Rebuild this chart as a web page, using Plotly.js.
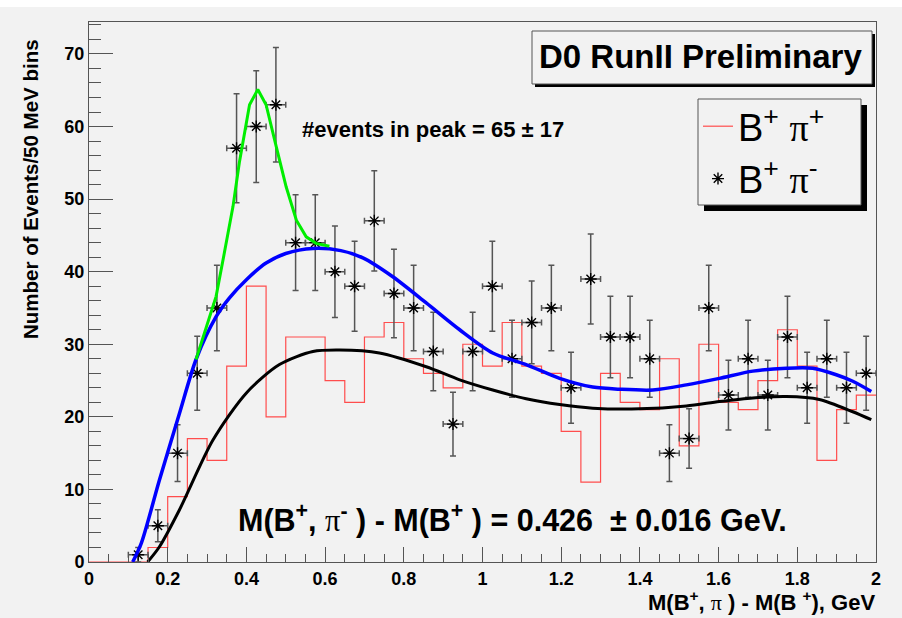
<!DOCTYPE html>
<html>
<head>
<meta charset="utf-8">
<script src="https://cdn.plot.ly/plotly-3.0.1.min.js"></script>
<style>
  html, body { margin: 0; padding: 0; background: #f2f2f2; }
  #chart { width: 902px; height: 618px; }
</style>
</head>
<body>
<div id="chart"></div>
<script>
// ---------- data ----------
// B+ pi+ histogram (40 bins of 50 MeV from 0 to 2 GeV)
const histLowEdges = [0.00,0.05,0.10,0.15,0.20,0.25,0.30,0.35,0.40,0.45,
                      0.50,0.55,0.60,0.65,0.70,0.75,0.80,0.85,0.90,0.95,
                      1.00,1.05,1.10,1.15,1.20,1.25,1.30,1.35,1.40,1.45,
                      1.50,1.55,1.60,1.65,1.70,1.75,1.80,1.85,1.90,1.95];
const histUpperEnd = 2.0;
const bpipCounts = [0,0,0,2,9,17,14,27,38,20,
                    31,31,25,22,31,33,28,26,24,30,
                    27,33,27,26,18,11,26,22,21,28,
                    16,30,22,21,25,32,27,14,21,23];

// B+ pi- points (bin centres, counts, errors)
const bpimX = [0.125,0.175,0.225,0.275,0.325,0.375,0.425,0.475,0.525,0.575,
               0.625,0.675,0.725,0.775,0.825,0.875,0.925,0.975,1.025,1.075,
               1.125,1.175,1.225,1.275,1.325,1.375,1.425,1.475,1.525,1.575,
               1.625,1.675,1.725,1.775,1.825,1.875,1.925,1.975];
const bpimY = [1,5,15,26,35,57,60,63,44,44,
               40,38,47,37,35,29,19,29,38,28,
               33,35,24,39,31,31,28,15,17,35,
               23,28,23,31,24,28,24,26];
const bpimErr = [1.0,2.2,3.9,5.1,5.9,7.5,7.7,7.9,6.6,6.6,
                 6.3,6.2,6.9,6.1,5.9,5.4,4.4,5.4,6.2,5.3,
                 5.7,5.9,4.9,6.2,5.6,5.6,5.3,3.9,4.1,5.9,
                 4.8,5.3,4.8,5.6,4.9,5.3,4.9,5.1];
const halfBin = 0.025;

// fitted curves
const blackX = [0.149,0.179,0.23,0.315,0.40,0.484,0.569,0.637,0.738,0.857,0.942,1.026,1.111,1.196,1.28,1.399,1.518,1.602,1.687,1.772,1.856,1.941,1.988];
const blackY = [0,2.1,7.2,16.8,23.3,27.2,29.0,29.2,28.8,26.9,25.1,23.7,22.5,21.7,21.2,21.1,21.5,22.1,22.6,22.8,22.4,20.7,19.6];

const blueX = [0.111,0.133,0.179,0.23,0.272,0.323,0.357,0.40,0.45,0.50,0.569,0.64,0.696,0.772,0.857,0.942,1.026,1.111,1.196,1.28,1.35,1.433,1.518,1.602,1.687,1.772,1.839,1.899,1.941,1.988];
const blueY = [0,2.6,11.3,20.5,27.9,33.8,36.4,38.9,41.2,42.5,43.2,42.9,41.9,39.3,35.7,32.0,28.8,27.2,25.3,24.1,23.8,23.7,24.4,25.3,26.3,26.7,26.7,25.8,24.9,23.5];

const greenX = [0.272,0.323,0.344,0.366,0.382,0.408,0.429,0.450,0.476,0.501,0.527,0.552,0.577,0.611];
const greenY = [27.9,36.6,42.6,49.0,55.0,63.0,65.1,63.0,57.2,51.7,47.1,44.8,43.9,43.5];

// texts
const PI = '<span style="font-family:Liberation Serif, serif;font-weight:normal">π</span>';
const legendNames = ['B<sup>+</sup> ' + PI + '<sup>+</sup>', 'B<sup>+</sup> ' + PI + '<sup>-</sup>'];
const titleText = 'D0 RunII Preliminary';
const peakText = '#events in peak = 65 ± 17';
const resultText = 'M(B<sup>+</sup>, ' + PI + '<sup>-</sup> ) - M(B<sup>+</sup> ) = 0.426  ± 0.016 GeV.';
const xTitle = 'M(B<sup>+</sup>, ' + PI + ' ) - M(B <sup>+</sup>), GeV';
const yTitle = 'Number of Events/50 MeV bins';

// ---------- layout helpers (pixel -> paper) ----------
const W = 902, H = 618;
const M = {l: 89, r: 26, t: 22, b: 56};
const PW = W - M.l - M.r, PH = H - M.t - M.b;
const px = x => (x - M.l) / PW;
const py = y => (H - M.b - y) / PH;

// histogram as steps
const histX = histLowEdges.concat([histUpperEnd]);
const histY = bpipCounts.concat([bpipCounts[bpipCounts.length - 1]]);

const FONT = 'Liberation Sans, Arial, Helvetica, sans-serif';
const AX = '#555555';

const traces = [
  {
    type: 'scatter', mode: 'lines', x: histX, y: histY,
    line: {shape: 'hv', color: '#ff4d4d', width: 1.2},
    name: legendNames[0], showlegend: true
  },
  {
    type: 'scatter', mode: 'markers', x: bpimX, y: bpimY,
    marker: {symbol: 'asterisk-open', size: 10, color: '#000', line: {color: '#000', width: 1.4}},
    error_y: {type: 'data', array: bpimErr, visible: true, color: '#555', thickness: 1.5, width: 3},
    error_x: {type: 'constant', value: halfBin, visible: true, color: '#555', thickness: 1.5, width: 3},
    name: legendNames[1], showlegend: true
  },
  {
    type: 'scatter', mode: 'lines', x: blackX, y: blackY,
    line: {shape: 'spline', smoothing: 0.8, color: '#000', width: 3},
    showlegend: false, hoverinfo: 'skip'
  },
  {
    type: 'scatter', mode: 'lines', x: blueX, y: blueY,
    line: {shape: 'spline', smoothing: 0.8, color: '#0000ff', width: 3.5},
    showlegend: false, hoverinfo: 'skip'
  },
  {
    type: 'scatter', mode: 'lines', x: greenX, y: greenY,
    line: {shape: 'linear', color: '#00ee00', width: 3},
    showlegend: false, hoverinfo: 'skip'
  }
];

const layout = {
  width: W, height: H,
  margin: {l: M.l, r: M.r, t: M.t, b: M.b, pad: 0},
  paper_bgcolor: '#f2f2f2', plot_bgcolor: '#f2f2f2',
  font: {family: FONT, color: '#000'},
  showlegend: true,
  legend: {
    x: px(698), y: py(95), xanchor: 'left', yanchor: 'top',
    bgcolor: 'rgba(0,0,0,0)', borderwidth: 0,
    font: {family: FONT, size: 38, color: '#000'},
    itemwidth: 30, tracegroupgap: 0
  },
  xaxis: {
    range: [0, 2], dtick: 0.2, tick0: 0, ticks: 'inside', ticklen: 15, tickwidth: 1, tickcolor: AX,
    minor: {dtick: 0.05, ticks: 'inside', ticklen: 8, tickcolor: AX, tickwidth: 1},
    showline: true, linecolor: AX, linewidth: 1, mirror: true,
    showgrid: false, zeroline: false,
    tickfont: {family: FONT, size: 18, weight: 'bold', color: '#000'}
  },
  yaxis: {
    range: [0, 74.4], dtick: 10, tick0: 0, ticks: 'inside', ticklen: 24, tickwidth: 1, tickcolor: AX,
    minor: {dtick: 2, ticks: 'inside', ticklen: 12, tickcolor: AX, tickwidth: 1},
    showline: true, linecolor: AX, linewidth: 1, mirror: true,
    showgrid: false, zeroline: false,
    tickfont: {family: FONT, size: 18, weight: 'bold', color: '#000'}
  },
  shapes: [
    // white strip at very top of canvas
    {type: 'rect', xref: 'paper', yref: 'paper', x0: px(0), x1: px(W), y0: py(0), y1: py(7),
     fillcolor: '#ffffff', line: {width: 0}, layer: 'below'},
    // title box shadow + box
    {type: 'rect', xref: 'paper', yref: 'paper', x0: px(535), x1: px(875), y0: py(87), y1: py(34),
     fillcolor: '#000', line: {width: 0}, layer: 'above'},
    {type: 'rect', xref: 'paper', yref: 'paper', x0: px(532), x1: px(872), y0: py(84), y1: py(31),
     fillcolor: '#f2f2f2', line: {color: AX, width: 1}, layer: 'above'},
    // legend shadow + box
    {type: 'rect', xref: 'paper', yref: 'paper', x0: px(704), x1: px(867), y0: py(211), y1: py(105),
     fillcolor: '#000', line: {width: 0}, layer: 'above'},
    {type: 'rect', xref: 'paper', yref: 'paper', x0: px(698), x1: px(861), y0: py(205), y1: py(99),
     fillcolor: '#f2f2f2', line: {color: AX, width: 1}, layer: 'above'}
  ],
  annotations: [
    {xref: 'paper', yref: 'paper', x: px(700), y: py(57), text: '<b>' + titleText + '</b>', showarrow: false,
     font: {family: FONT, size: 33, color: '#000'}, xanchor: 'center', yanchor: 'middle'},
    {xref: 'paper', yref: 'paper', x: px(300), y: py(130), text: '<b>' + peakText + '</b>', showarrow: false,
     font: {family: FONT, size: 22, color: '#000'}, xanchor: 'left', yanchor: 'middle'},
    {xref: 'paper', yref: 'paper', x: px(512), y: py(518), text: '<b>' + resultText + '</b>', showarrow: false,
     font: {family: FONT, size: 30.5, color: '#000'}, xanchor: 'center', yanchor: 'middle'},
    {xref: 'paper', yref: 'paper', x: px(877), y: py(601), text: '<b>' + xTitle + '</b>', showarrow: false,
     font: {family: FONT, size: 22, color: '#000'}, xanchor: 'right', yanchor: 'middle'},
    {xref: 'paper', yref: 'paper', x: px(30), y: py(189), text: '<b>' + yTitle + '</b>', showarrow: false,
     textangle: -90, font: {family: FONT, size: 20.5, color: '#000'}, xanchor: 'center', yanchor: 'middle'}
  ]
};

Plotly.newPlot('chart', traces, layout, {staticPlot: true, displayModeBar: false});
</script>
</body>
</html>
